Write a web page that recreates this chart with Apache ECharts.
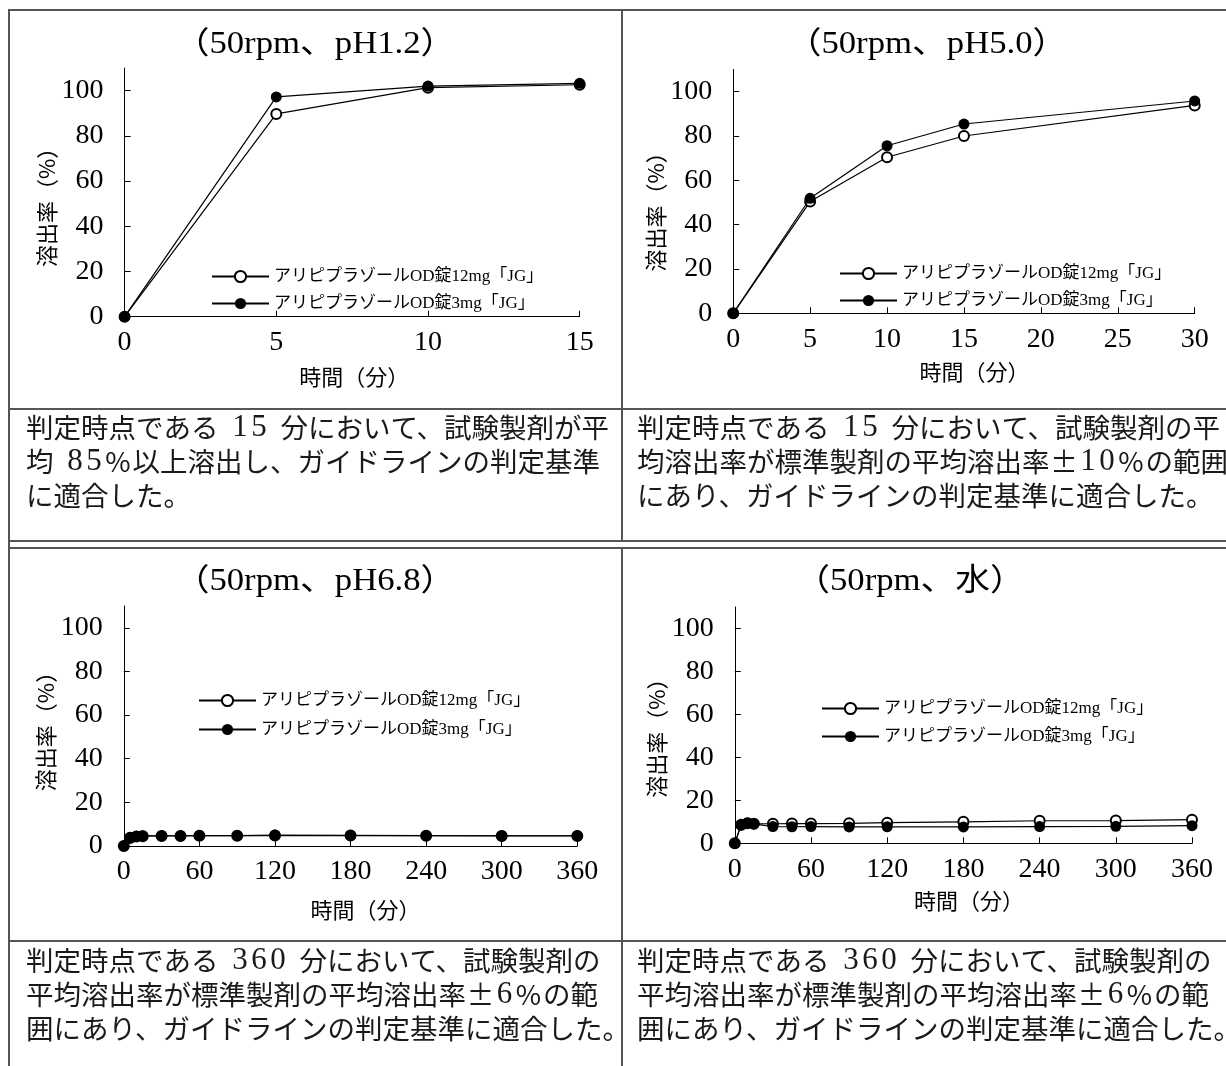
<!DOCTYPE html>
<html>
<head>
<meta charset="utf-8">
<script src="https://cdn.jsdelivr.net/npm/echarts@6/dist/echarts.min.js"></script>
<style>
html,body{margin:0;padding:0;background:#fff;}
#c{width:1226px;height:1066px;}
</style>
</head>
<body>
<div id="c"></div>
<script>
// ---- data ----
const seriesNames = ['アリピプラゾールOD錠12mg「JG」', 'アリピプラゾールOD錠3mg「JG」'];
const panelTitles = ['（50rpm、pH1.2）', '（50rpm、pH5.0）', '（50rpm、pH6.8）', '（50rpm、水）'];
const yAxisTitle = '溶出率（%）';
const xAxisTitle = '時間（分）';
const yTickValues = [0, 20, 40, 60, 80, 100];

const times_pH12 = [0, 5, 10, 15];
const pH12_12mg = [0, 89.7, 101.3, 102.6];
const pH12_3mg = [0, 97.2, 102.0, 103.2];

const times_pH50 = [0, 5, 10, 15, 30];
const pH50_12mg = [0, 50.4, 70.4, 80.0, 93.8];
const pH50_3mg = [0, 51.9, 75.6, 85.4, 95.8];

const times_long = [0, 5, 10, 15, 30, 45, 60, 90, 120, 180, 240, 300, 360];
const pH68_12mg = [0, 3.7, 4.3, 4.5, 4.6, 4.6, 4.7, 4.7, 4.8, 4.8, 4.7, 4.6, 4.6];
const pH68_3mg = [0, 4.0, 4.5, 4.7, 4.7, 4.7, 4.8, 4.8, 5.0, 4.9, 4.8, 4.7, 4.7];
const water_12mg = [0, 8.6, 9.3, 9.1, 9.1, 9.2, 9.2, 9.3, 9.6, 10.0, 10.5, 10.6, 11.0];
const water_3mg = [0, 8.5, 9.4, 9.0, 7.8, 7.7, 7.8, 7.6, 7.7, 7.6, 7.8, 7.9, 8.2];

const xMax = [15, 30, 360, 360];
const xInterval = [5, 5, 60, 60];

const textTL = ['判定時点である 15 分において、試験製剤が平', '均 85%以上溶出し、ガイドラインの判定基準', 'に適合した。'];
const textTR = ['判定時点である 15 分において、試験製剤の平', '均溶出率が標準製剤の平均溶出率±10%の範囲', 'にあり、ガイドラインの判定基準に適合した。'];
const textBL = ['判定時点である 360 分において、試験製剤の', '平均溶出率が標準製剤の平均溶出率±6%の範', '囲にあり、ガイドラインの判定基準に適合した。'];
const textBR = ['判定時点である 360 分において、試験製剤の', '平均溶出率が標準製剤の平均溶出率±6%の範', '囲にあり、ガイドラインの判定基準に適合した。'];

// ---- build ----
const FNUM = '"Liberation Serif", "Noto Sans CJK JP", serif';
const FJP = '"Noto Sans CJK JP", sans-serif';

const panels = [
  {t: times_pH12, a: pH12_12mg, b: pH12_3mg},
  {t: times_pH50, a: pH50_12mg, b: pH50_3mg},
  {t: times_long, a: pH68_12mg, b: pH68_3mg},
  {t: times_long, a: water_12mg, b: water_3mg}
];
const pairs = (t, v) => t.map((x, i) => [x, v[i]]);

const grids = [
  {left: 124.6, top: 68, width: 455.1, height: 248.7},
  {left: 733.2, top: 69.5, width: 461.5, height: 243.8},
  {left: 123.8, top: 606, width: 453.5, height: 240},
  {left: 734.8, top: 607, width: 457.2, height: 236.3}
];
const yNameGap = [64, 65, 65.5, 66.5];
const yNamePad = [[0, 19, 0, 0], [0, 30, 0, 0], [0, 0, 0, 0], [0, 15, 0, 0]];
const xNameGap = [49.3, 47.7, 53, 46.7];
const xNamePad = [[0, 0, 0, 4], [0, 0, 0, 21], [0, 0, 0, 30], [0, 0, 0, 11]];
const legendPos = [
  {left: 211, top: 268, itemGap: 10},
  {left: 839, top: 265, itemGap: 10},
  {left: 198, top: 692, itemGap: 12},
  {left: 821, top: 700, itemGap: 11}
];
const titlePos = [[315, 45], [927, 45], [315, 582], [910, 582]];

const xAxes = [], yAxes = [], series = [], legends = [];
for (let i = 0; i < 4; i++) {
  xAxes.push({
    type: 'value', gridIndex: i, min: 0, max: xMax[i], interval: xInterval[i],
    axisLine: {show: true, onZero: false, lineStyle: {color: '#000', width: 1}},
    axisTick: {show: true, inside: true, length: 6, lineStyle: {color: '#000', width: 1}},
    axisLabel: {fontFamily: FNUM, fontSize: 28, color: '#000', margin: 12},
    splitLine: {show: false},
    name: xAxisTitle, nameLocation: 'middle', nameGap: xNameGap[i],
    nameTextStyle: {fontFamily: FJP, fontSize: 22, color: '#000', padding: xNamePad[i]}
  });
  yAxes.push({
    type: 'value', gridIndex: i, min: 0, max: 110, interval: 20,
    axisLine: {show: true, lineStyle: {color: '#000', width: 1}},
    axisTick: {show: true, inside: true, length: 6, customValues: yTickValues, lineStyle: {color: '#000', width: 1}},
    axisLabel: {fontFamily: FNUM, fontSize: 28, color: '#000', margin: 21, customValues: yTickValues},
    splitLine: {show: false},
    name: yAxisTitle, nameLocation: 'middle', nameRotate: 90, nameGap: yNameGap[i],
    nameTextStyle: {fontFamily: FJP, fontSize: 22, color: '#000', padding: yNamePad[i]}
  });
  const p = panels[i];
  series.push({
    type: 'line', name: seriesNames[0], xAxisIndex: i, yAxisIndex: i,
    data: pairs(p.t, p.a), symbol: 'emptyCircle', symbolSize: 10,
    lineStyle: {color: '#000', width: 1.2}, itemStyle: {color: '#000', borderWidth: 2},
    animation: false, z: 2
  });
  series.push({
    type: 'line', name: seriesNames[1], xAxisIndex: i, yAxisIndex: i,
    data: pairs(p.t, p.b), symbol: 'circle', symbolSize: 11,
    lineStyle: {color: '#000', width: 1.2}, itemStyle: {color: '#000'},
    animation: false, z: 3
  });
  legends.push({
    orient: 'vertical', left: legendPos[i].left, top: legendPos[i].top, itemGap: legendPos[i].itemGap,
    itemWidth: 57, itemHeight: 14, padding: 0, selectedMode: false,
    data: seriesNames,
    textStyle: {fontFamily: FNUM, fontSize: 17, color: '#000', lineHeight: 14}
  });
}

const graphics = [];
const BORDER = '#555';
function hline(y, x1, x2) { graphics.push({type: 'line', shape: {x1: x1, y1: y, x2: x2, y2: y}, style: {stroke: BORDER, lineWidth: 2}, silent: true}); }
function vline(x, y1, y2) { graphics.push({type: 'line', shape: {x1: x, y1: y1, x2: x, y2: y2}, style: {stroke: BORDER, lineWidth: 2}, silent: true}); }
hline(10, 8, 1226);
hline(409, 8, 1226);
hline(541, 8, 1226);
hline(548, 8, 1226);
hline(941, 8, 1226);
vline(9, 9, 1066);
vline(622, 9, 541);
vline(622, 548, 1066);

for (let i = 0; i < 4; i++) {
  graphics.push({type: 'text', silent: true, x: titlePos[i][0], y: titlePos[i][1], scaleX: 1.12,
    style: {
      text: panelTitles[i], x: 0, y: 0,
      font: '31px ' + FNUM, fill: '#000', textAlign: 'center', textVerticalAlign: 'middle'
    }});
}
const TEXT_COLOR = '#1a1a1a';
const richBody = {
  j: {fontFamily: FJP, fontSize: 27.5, color: TEXT_COLOR, lineHeight: 34},
  d: {fontFamily: '"Liberation Serif", serif', fontSize: 31, color: TEXT_COLOR, lineHeight: 34, width: 19, align: 'center'},
  w: {fontFamily: '"Liberation Serif", serif', fontSize: 31, color: TEXT_COLOR, lineHeight: 34, width: 12},
  s: {fontFamily: FJP, fontSize: 27.5, color: TEXT_COLOR, lineHeight: 34, width: 29, align: 'center'}
};
function toRich(s) {
  let out = '', run = '';
  const flush = () => { if (run) { out += '{j|' + run + '}'; run = ''; } };
  for (const ch of s) {
    if (/[0-9]/.test(ch)) { flush(); out += '{d|' + ch + '}'; }
    else if (ch === ' ') { flush(); out += '{w| }'; }
    else if (ch === '±' || ch === '%') { flush(); out += '{s|' + ch + '}'; }
    else run += ch;
  }
  flush();
  return out;
}
function block(lines, x, y0) {
  lines.forEach((s, k) => {
    graphics.push({type: 'text', silent: true, style: {
      text: toRich(s), rich: richBody, x: x, y: y0 + k * 34,
      font: '27.5px ' + FJP, fill: TEXT_COLOR,
      textAlign: 'left', textVerticalAlign: 'middle'
    }});
  });
}
block(textTL, 26, 428);
block(textTR, 637, 428);
block(textBL, 26, 961);
block(textBR, 637, 961);

const chart = echarts.init(document.getElementById('c'), null, {renderer: 'canvas'});
chart.setOption({
  backgroundColor: '#fff',
  animation: false,
  grid: grids.map(g => Object.assign({containLabel: false, outerBoundsMode: 'none'}, g)),
  xAxis: xAxes,
  yAxis: yAxes,
  legend: legends,
  series: series,
  graphic: graphics
});
</script>
</body>
</html>
